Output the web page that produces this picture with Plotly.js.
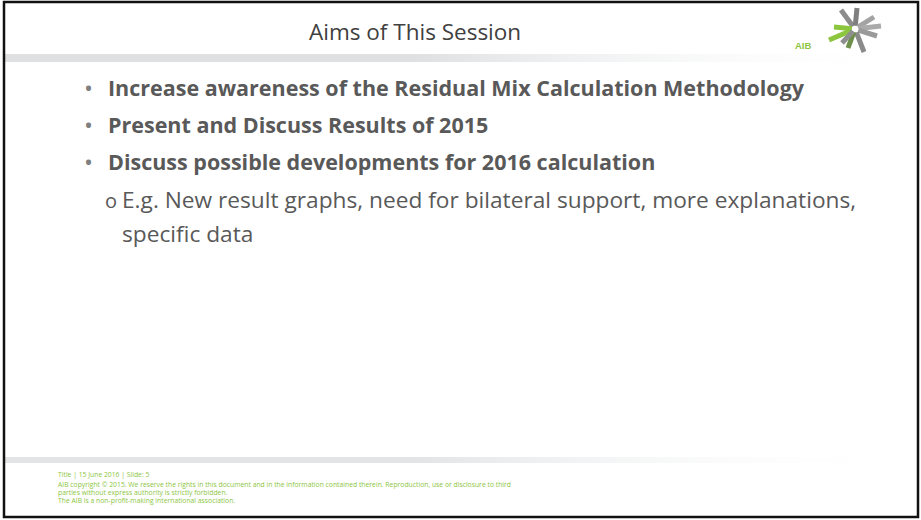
<!DOCTYPE html>
<html>
<head>
<meta charset="utf-8">
<script src="https://cdn.plot.ly/plotly-3.0.1.min.js"></script>
<style>html,body{margin:0;padding:0;background:#fff;}#chart{width:921px;height:520px;}</style>
</head>
<body>
<div id="chart"></div>
<script>
// ---- slide content ----
var slideTitle = "Aims of This Session";
var bulletTexts = [
  "Increase awareness of the Residual Mix Calculation Methodology",
  "Present and Discuss Results of 2015",
  "Discuss possible developments for 2016 calculation"
];
var subBulletLines = [
  "E.g. New result graphs, need for bilateral support, more explanations,",
  "specific data"
];
var footerLines = [
  "Title | 15 June 2016 | Slide: 5",
  "AIB copyright © 2015. We reserve the rights in this document and in the information contained therein. Reproduction, use or disclosure to third",
  "parties without express authority is strictly forbidden.",
  "The AIB is a non-profit-making international association."
];
var logoLabel = "AIB";
// logo rays: end points relative to centre, colours
var rayDx = [-14, 2, 19, 26, 22, 9, -7, -26, -21, -13];
var rayDy = [-19, -21, -12, -3, 7, 23, 19, 11, -2, 14];
var rayColors = ["#8c8c8c", "#7f7f7f", "#a3a3a3", "#aaaaaa", "#9a9a9a", "#8a8a8a", "#6f8f4c", "#8cc63f", "#8cc63f", "#8f8f8f"];

var FONT = "'Open Sans', Carlito, Calibri, sans-serif";
var TEXT_GREY = "#595959";

var annotations = [];
var shapes = [];
var traces = [];

// title
annotations.push({x: 415, y: 31, xref: "x", yref: "y", text: slideTitle, showarrow: false,
  xanchor: "center", yanchor: "middle", font: {family: FONT, size: 22.5, color: "#404040"}});

// bullets
var bulletY0 = 87, bulletStep = 37;
bulletTexts.forEach(function (t, i) {
  var y = bulletY0 + i * bulletStep;
  annotations.push({x: 82, y: y, xref: "x", yref: "y", text: "•", showarrow: false,
    xanchor: "left", yanchor: "middle", font: {family: FONT, size: 24, color: "#7f7f7f"}});
  annotations.push({x: 106, y: y, xref: "x", yref: "y", text: "<b>" + t + "</b>", showarrow: false,
    xanchor: "left", yanchor: "middle", font: {family: FONT, size: 21.5, color: TEXT_GREY}});
});

// sub bullet
var subY = [199, 233];
annotations.push({x: 103, y: subY[0] + 1, xref: "x", yref: "y", text: "o", showarrow: false,
  xanchor: "left", yanchor: "middle", font: {family: FONT, size: 20, color: TEXT_GREY}});
subBulletLines.forEach(function (t, i) {
  annotations.push({x: 120, y: subY[i], xref: "x", yref: "y", text: t, showarrow: false,
    xanchor: "left", yanchor: "middle", font: {family: FONT, size: 22.7, color: TEXT_GREY}});
});

// footer
var footerY = [474, 484, 492, 500];
footerLines.forEach(function (t, i) {
  annotations.push({x: 56, y: footerY[i], xref: "x", yref: "y", text: t, showarrow: false,
    xanchor: "left", yanchor: "middle", font: {family: FONT, size: 6.8, color: "#8cc63f"}});
});

// logo label
annotations.push({x: 814, y: 45, xref: "x", yref: "y", text: "<b>" + logoLabel + "</b>", showarrow: false,
  xanchor: "right", yanchor: "middle", font: {family: "Liberation Sans, Arial, sans-serif", size: 9.5, color: "#8cc63f"}});

// logo rays
var cx = 855, cy = 29;
rayDx.forEach(function (dx, i) {
  traces.push({x: [cx + dx * 0.15, cx + dx], y: [cy + rayDy[i] * 0.15, cy + rayDy[i]], mode: "lines",
    line: {color: rayColors[i], width: 5}, hoverinfo: "skip", showlegend: false});
});

// gradient bands
function band(x0, x1, y0, y1, c) {
  return {x: [x0, x1, x1, x0, x0], y: [y0, y0, y1, y1, y0], mode: "lines", fill: "toself",
    line: {width: 0, color: "rgba(0,0,0,0)"},
    fillgradient: {type: "horizontal", colorscale: [[0, c], [0.45, c], [1, "rgba(255,255,255,0)"]]},
    hoverinfo: "skip", showlegend: false};
}
traces.unshift(band(4, 918, 54, 62, "rgba(222,224,226,1)"));
traces.unshift(band(4, 918, 457, 463, "rgba(226,228,230,1)"));

// frame
shapes.push({type: "rect", xref: "x", yref: "y", x0: 4, y0: 2, x1: 918, y1: 517,
  line: {color: "#111", width: 2.5}, fillcolor: "rgba(0,0,0,0)"});

var layout = {
  width: 921, height: 520,
  margin: {l: 0, r: 0, t: 0, b: 0, pad: 0},
  paper_bgcolor: "#ffffff", plot_bgcolor: "#ffffff",
  xaxis: {range: [0, 921], visible: false, fixedrange: true},
  yaxis: {range: [520, 0], visible: false, fixedrange: true},
  showlegend: false,
  annotations: annotations,
  shapes: shapes
};
Plotly.newPlot("chart", traces, layout, {displayModeBar: false, staticPlot: true});
</script>
</body>
</html>
